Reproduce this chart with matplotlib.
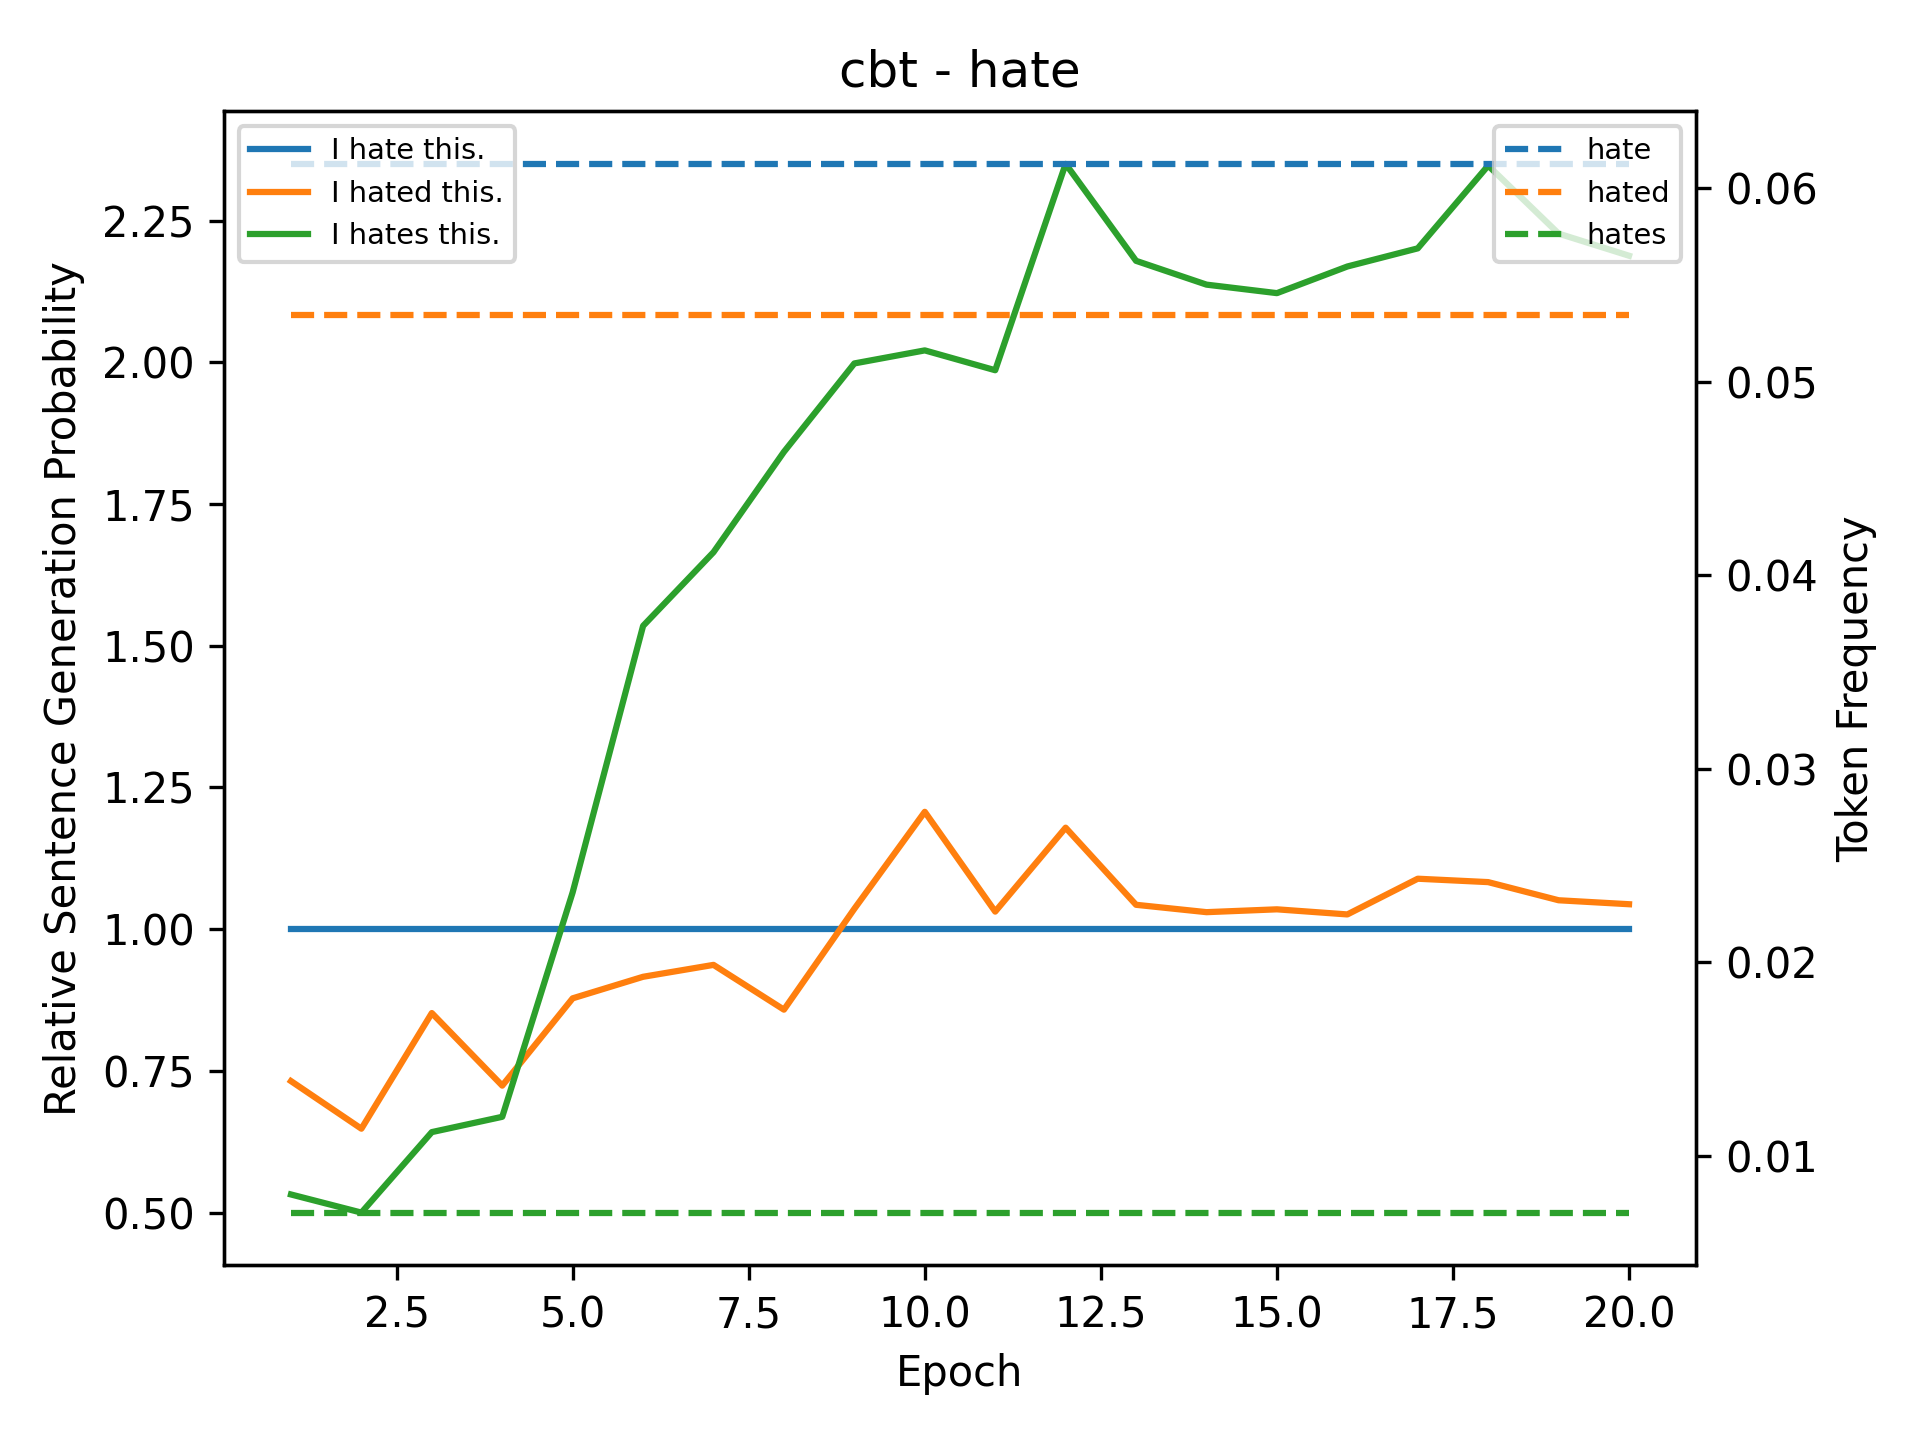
import matplotlib.pyplot as plt

plt.switch_backend('agg')

# Relative sentence generation probability per epoch
epochs = list(range(1, 21))
prob_hate = [1.0] * 20
prob_hated = [0.732, 0.648, 0.852, 0.724, 0.878, 0.916, 0.937, 0.858, 1.036, 1.207,
              1.031, 1.179, 1.043, 1.030, 1.035, 1.026, 1.089, 1.083, 1.051, 1.044]
prob_hates = [0.532, 0.500, 0.642, 0.669, 1.065, 1.535, 1.665, 1.842, 1.998, 2.021,
              1.986, 2.350, 2.179, 2.137, 2.122, 2.169, 2.201, 2.347, 2.227, 2.188]

# Token frequency of each word form
freq_hate = 0.06126
freq_hated = 0.05345
freq_hates = 0.00707

sentence_labels = ['I hate this.', 'I hated this.', 'I hates this.']
token_labels = ['hate', 'hated', 'hates']
colors = ['tab:blue', 'tab:orange', 'tab:green']

fig, ax1 = plt.subplots(figsize=(6.4, 4.8), dpi=300)
fig.subplots_adjust(left=0.1167, right=0.8833, top=0.9226, bottom=0.1215)
ax2 = ax1.twinx()

solid = []
for label, ys, c in zip(sentence_labels, [prob_hate, prob_hated, prob_hates], colors):
    line, = ax1.plot(epochs, ys, color=c, label=label)
    solid.append(line)

for label, f, c in zip(token_labels, [freq_hate, freq_hated, freq_hates], colors):
    ax2.plot(epochs, [f] * len(epochs), color=c, linestyle='--', label=label)

ax1.set_xlabel('Epoch')
ax1.set_ylabel('Relative Sentence Generation Probability')
ax2.set_ylabel('Token Frequency')
ax1.set_title('cbt - hate')

# both legends live on the twin axes so they sit above every line
leg1 = ax2.legend(handles=solid, loc='upper left', fontsize='x-small')
ax2.add_artist(leg1)
ax2.legend(loc='upper right', fontsize='x-small')

plt.savefig('out.png', dpi=300)
